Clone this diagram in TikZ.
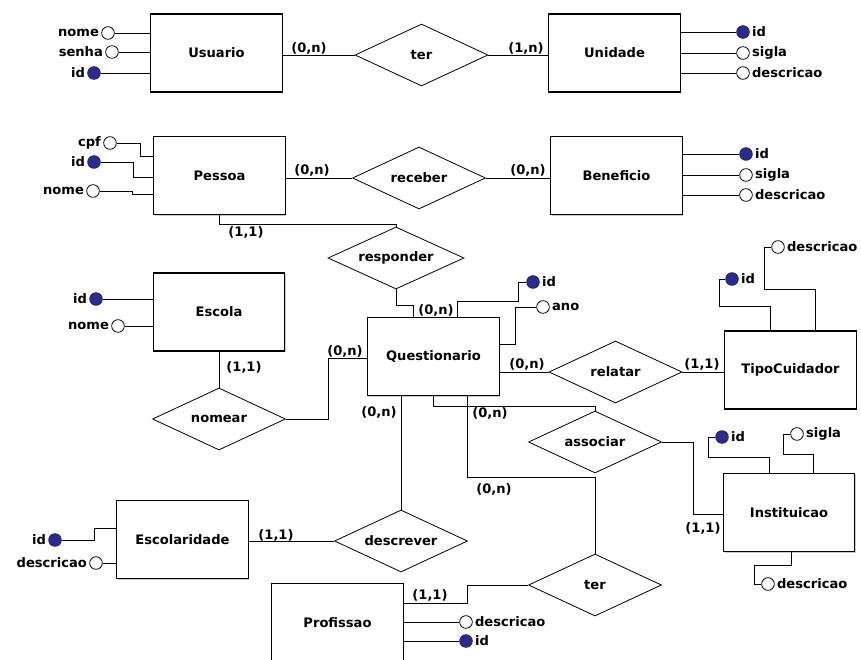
\documentclass[tikz,border=0pt]{standalone}
\usepackage{fontspec}
\setmainfont{DejaVu Sans}
\usetikzlibrary{shapes.geometric,shadows}

\definecolor{chave}{RGB}{43,43,140}

\tikzset{
  entidade/.style={draw, line width=0.9pt, fill=white, minimum width=98.5pt, minimum height=58.5pt,
    drop shadow={shadow xshift=0.9pt, shadow yshift=-0.9pt, fill=gray!70, opacity=0.6}},
  relacao/.style={draw, diamond, aspect=2.1, inner sep=0pt, fill=white,
    minimum width=99.75pt, minimum height=46.5pt},
  atributo/.style={draw, circle, fill=white, minimum size=9.5pt, inner sep=0pt},
  chaveatr/.style={atributo, fill=chave, draw=chave!80!black},
  card/.style={inner sep=0pt},
}

\begin{document}
\begin{tikzpicture}[x=0.75pt, y=-0.75pt, line width=0.6pt,
  font=\fontsize{9.8}{11}\selectfont\bfseries, every label/.style={inner sep=1.5pt}]

  \useasboundingbox (0,0) rectangle (861,660);
  \clip (0,0) rectangle (861,660);

% Entidades
  \node[entidade] (usuario) at (216.5,53) {Usuario};
  \node[entidade] (unidade) at (614.5,53) {Unidade};
  \node[entidade] (pessoa) at (219.5,175.5) {Pessoa};
  \node[entidade] (beneficio) at (616.5,175.5) {Beneficio};
  \node[entidade] (escola) at (219,312) {Escola};
  \node[entidade] (questionario) at (433.5,356.5) {Questionario};
  \node[entidade] (tipocuidador) at (790.5,370) {TipoCuidador};
  \node[entidade] (instituicao) at (789,512.5) {Instituicao};
  \node[entidade] (escolaridade) at (182.5,539.5) {Escolaridade};
  \node[entidade] (profissao) at (337.5,622.5) {Profissao};

% Relacionamentos
  \node[relacao] (ter) at (421.5,55) {ter};
  \node[relacao] (receber) at (419,178) {receber};
  \node[relacao, minimum width=102pt] (responder) at (396,258) {responder};
  \node[relacao] (nomear) at (219,419) {nomear};
  \node[relacao] (relatar) at (615.5,372) {relatar};
  \node[relacao] (associar) at (595,442) {associar};
  \node[relacao] (terprof) at (595,585) {ter};
  \node[relacao] (descrever) at (401,541) {descrever};

% Atributos
  \node[atributo, label=left:nome] (unome) at (108,33) {};
  \node[atributo, label=left:senha] (usenha) at (112,52) {};
  \node[chaveatr, label=left:id] (uid) at (94,73) {};
  \node[chaveatr, label=right:id] (unid) at (743,32) {};
  \node[atributo, label=right:sigla] (unsigla) at (743,53) {};
  \node[atributo, label=right:descricao] (undesc) at (743,73) {};
  \node[atributo, label=left:cpf] (pcpf) at (110,143) {};
  \node[chaveatr, label=left:id] (pid) at (94,162) {};
  \node[atributo, label=left:nome] (pnome) at (93,191) {};
  \node[chaveatr, label=right:id] (bid) at (746,154) {};
  \node[atributo, label=right:sigla] (bsigla) at (746,175) {};
  \node[atributo, label=right:descricao] (bdesc) at (746,195) {};
  \node[chaveatr, label=left:id] (eid) at (96,299) {};
  \node[atributo, label=left:nome] (enome) at (118,326) {};
  \node[chaveatr, label=right:id] (qid) at (533,282) {};
  \node[atributo, label=right:ano] (qano) at (543,307) {};
  \node[chaveatr, label=right:id] (tid) at (732,279) {};
  \node[atributo, label=right:descricao] (tdesc) at (778,247) {};
  \node[chaveatr, label=right:id] (iid) at (722,437) {};
  \node[atributo, label=right:sigla] (isigla) at (797,434) {};
  \node[atributo, label=right:descricao] (idesc) at (768,584) {};
  \node[chaveatr, label=left:id] (esid) at (55,540) {};
  \node[atributo, label=left:descricao] (esdesc) at (96,563) {};
  \node[atributo, label=right:descricao] (prdesc) at (466,622) {};
  \node[chaveatr, label=right:id] (prid) at (466,641) {};

% Linhas dos atributos
  \foreach \atr/\ent in {unome/usuario, usenha/usuario, uid/usuario, eid/escola, enome/escola, esdesc/escolaridade}
    \draw (\atr) -- (\atr -| \ent.west);
  \foreach \atr/\ent in {unid/unidade, unsigla/unidade, undesc/unidade, bid/beneficio, bsigla/beneficio, bdesc/beneficio, prdesc/profissao, prid/profissao}
    \draw (\atr) -- (\atr -| \ent.east);
  \draw (pcpf) -| (140,156) -- (pessoa.west |- 0,156);
  \draw (pid) -| (133,177) -- (pessoa.west |- 0,177);
  \draw (pnome) -- (132,191) -- (132,194) -- (pessoa.west |- 0,194);
  \draw (questionario.north -| 457,0) |- (518,301) |- (qid);
  \draw (questionario.east |- 0,344) -| (515,307) -- (qano);
  \draw (tid) -| (719,306) -| (tipocuidador.north -| 770,0);
  \draw (tdesc) -| (764,289) -| (tipocuidador.north -| 815,0);
  \draw (iid) -| (708,457) -| (instituicao.north -| 769,0);
  \draw (isigla) -| (783,454) -| (instituicao.north -| 813,0);
  \draw (instituicao.south -| 791,0) |- (754,565) |- (idesc);
  \draw (esid) -| (94,528) -- (escolaridade.west |- 0,528);

% Ligacoes
  \draw (ter.west -| usuario.east) -- (ter.west);
  \draw (ter.east) -- (ter.east -| unidade.west);
  \draw (receber.west -| pessoa.east) -- (receber.west);
  \draw (receber.east) -- (receber.east -| beneficio.west);
  \draw (pessoa.south) -- ++(0,9) -| (responder.north);
  \draw (responder.south) |- (413,305) -- (questionario.north -| 413,0);
  \draw (escola.south) -- (nomear.north);
  \draw (nomear.east) -| (328,358) -- (questionario.west |- 0,358);
  \draw (questionario.east |- relatar.west) -- (relatar.west);
  \draw (relatar.east) -- (relatar.east -| tipocuidador.west);
  \draw (questionario.south) |- (595,406) -- (associar.north);
  \draw (associar.east) -| (693,514) -- (instituicao.west |- 0,514);
  \draw (questionario.south -| 467,0) |- (595,477) -- (terprof.north);
  \draw (terprof.west) -| (467,603) -- (profissao.east |- 0,603);
  \draw (questionario.south -| 401,0) -- (descrever.north);
  \draw (descrever.west -| escolaridade.east) -- (descrever.west);

% Cardinalidades
  \node[card] (c1) at (309,48) {(0,n)};
  \node[card] (c2) at (526,48) {(1,n)};
  \node[card] (c3) at (312,170) {(0,n)};
  \node[card] (c4) at (528,170) {(0,n)};
  \node[card] (c5) at (246,232) {(1,1)};
  \node[card] (c6) at (436,310) {(0,n)};
  \node[card] (c7) at (244,367) {(1,1)};
  \node[card] (c8) at (345,351) {(0,n)};
  \node[card] (c9) at (527,364) {(0,n)};
  \node[card] (c10) at (702,364) {(1,1)};
  \node[card] (c11) at (379,412) {(0,n)};
  \node[card] (c12) at (490,413) {(0,n)};
  \node[card] (c13) at (494,489) {(0,n)};
  \node[card] (c14) at (703,528) {(1,1)};
  \node[card] (c15) at (276,535) {(1,1)};
  \node[card] (c16) at (430,595) {(1,1)};

\end{tikzpicture}
\end{document}
